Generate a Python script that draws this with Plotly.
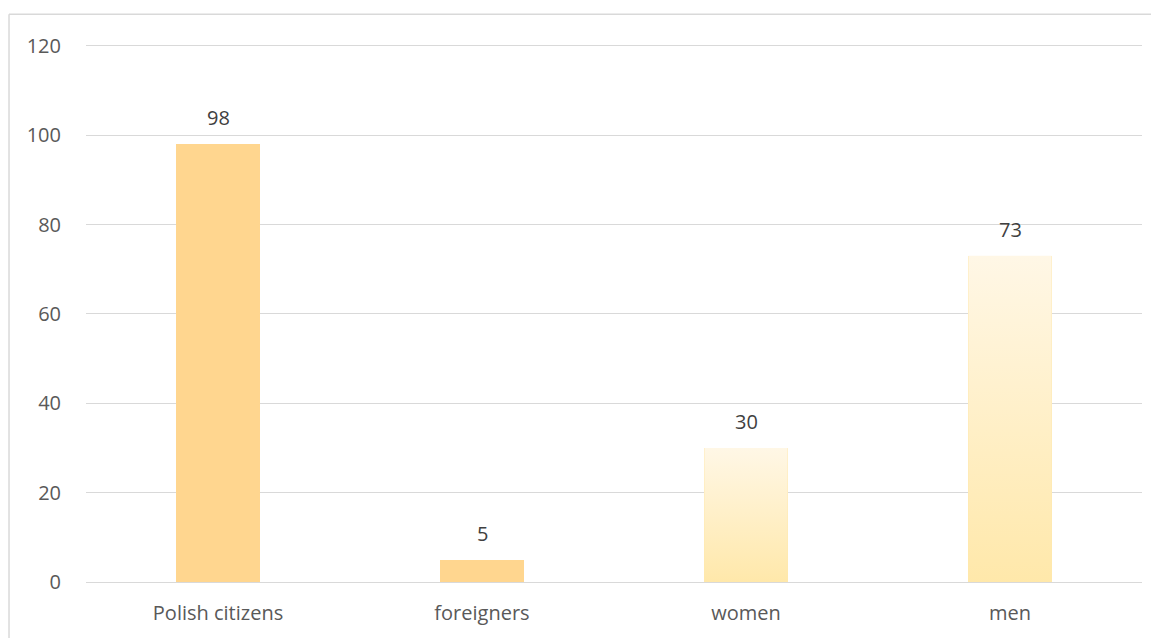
import plotly.graph_objects as go

categories = ["Polish citizens", "foreigners", "women", "men"]
values = [98, 5, 30, 73]
bar_colors = ["#FFD68F", "#FFD68F", "#FFE8AC", "#FFE8AC"]
gradient_flags = [False, False, True, True]
y_ticks = [0, 20, 40, 60, 80, 100, 120]

FONT = "Open Sans"
BAR_W = 0.315
xs = list(range(len(categories)))

fig = go.Figure()
fig.add_trace(go.Bar(
    x=xs, y=values, width=BAR_W,
    marker=dict(color=bar_colors, line=dict(width=0)),
    hoverinfo="x+y", showlegend=False,
))

# vertical gradient overlay for the gradient-filled bars
for i, (v, g) in enumerate(zip(values, gradient_flags)):
    if not g:
        continue
    x0, x1 = i - BAR_W / 2, i + BAR_W / 2
    fig.add_trace(go.Scatter(
        x=[x0, x1, x1, x0, x0], y=[0, 0, v, v, 0],
        mode="lines", fill="toself", line=dict(width=0),
        fillgradient=dict(type="vertical",
                          colorscale=[[0, "#FFE8AA"], [1, "#FFF7E6"]]),
        hoverinfo="skip", showlegend=False,
    ))

for i, v in enumerate(values):
    fig.add_annotation(x=i, y=v, text=str(v), showarrow=False,
                       yanchor="bottom", yshift=11,
                       font=dict(family=FONT, size=20, color="#404040"))

fig.update_layout(
    width=1151, height=630,
    margin=dict(l=78, r=17, t=36, b=47),
    paper_bgcolor="white", plot_bgcolor="white",
    font=dict(family=FONT, size=20, color="#595959"),
    bargap=0,
    xaxis=dict(range=[-0.5, 3.5], tickvals=xs, ticktext=categories,
               showgrid=False, zeroline=False, showline=False,
               ticks="", ticklabelstandoff=17, fixedrange=True),
    yaxis=dict(range=[0, 120.4], tickvals=y_ticks, showgrid=True,
               gridcolor="#D9D9D9", gridwidth=1, zeroline=True,
               zerolinecolor="#D9D9D9", zerolinewidth=1, showline=False,
               ticks="", ticklabelstandoff=24, fixedrange=True),
    shapes=[
        dict(type="line", xref="paper", yref="paper",
             x0=-0.0729, x1=1.2, y0=1.0552, y1=1.0552,
             line=dict(color="#D9D9D9", width=1.5)),
        dict(type="line", xref="paper", yref="paper",
             x0=-0.0729, x1=-0.0729, y0=1.0552, y1=-0.2,
             line=dict(color="#D9D9D9", width=1.5)),
    ],
)

fig.write_html("out.html")
